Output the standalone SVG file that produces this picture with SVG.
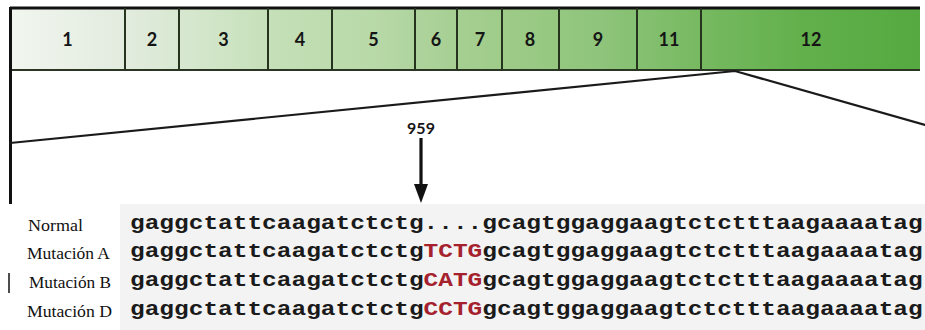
<svg xmlns="http://www.w3.org/2000/svg" width="925" height="330" viewBox="0 0 925 330">
  <defs>
    <linearGradient id="exonFill" gradientUnits="userSpaceOnUse" x1="10" y1="0" x2="920" y2="0">
      <stop offset="0" stop-color="#f1f6ef"/>
      <stop offset="0.13" stop-color="#e2ebde"/>
      <stop offset="0.2" stop-color="#d5e7cd"/>
      <stop offset="0.3" stop-color="#c3dfb6"/>
      <stop offset="0.4" stop-color="#b8d9a8"/>
      <stop offset="0.48" stop-color="#a8d095"/>
      <stop offset="0.55" stop-color="#9dcb87"/>
      <stop offset="0.65" stop-color="#8ec47b"/>
      <stop offset="0.75" stop-color="#79ba63"/>
      <stop offset="0.87" stop-color="#62b04c"/>
      <stop offset="1" stop-color="#55a940"/>
    </linearGradient>
  </defs>
  <style>
    .exon-num { font-family: Lato, "Liberation Sans", sans-serif; font-weight: bold; font-size: 18px; fill: #151515; text-anchor: middle; }
    .divider { stroke: #26331f; stroke-width: 2; }
    .label { font-family: "Liberation Serif", serif; font-size: 16px; fill: #111; }
    .seq { font-family: "Liberation Mono", monospace; font-weight: bold; font-size: 20px; fill: #1a1a1a; }
    .mut { fill: #a5212d; }
    .guide { stroke: #1a1a1a; stroke-width: 2.2; fill: none; stroke-linecap: round; }
  </style>

  <rect width="925" height="330" fill="#ffffff"/>

  <!-- exon bar -->
  <g id="exon-bar">
    <rect x="10" y="8" width="910" height="62" fill="url(#exonFill)"/>
    <line x1="10" y1="8" x2="920" y2="8" stroke="#111" stroke-width="3"/>
    <line x1="10" y1="70" x2="920" y2="70" stroke="#2a3524" stroke-width="2"/>
  </g>
  <g id="exon-1"><text class="exon-num" x="67.5" y="46">1</text></g>
  <g id="exon-2"><line class="divider" x1="125" y1="8" x2="125" y2="70"/><text class="exon-num" x="152" y="46">2</text></g>
  <g id="exon-3"><line class="divider" x1="179" y1="8" x2="179" y2="70"/><text class="exon-num" x="223.5" y="46">3</text></g>
  <g id="exon-4"><line class="divider" x1="268" y1="8" x2="268" y2="70"/><text class="exon-num" x="300" y="46">4</text></g>
  <g id="exon-5"><line class="divider" x1="332" y1="8" x2="332" y2="70"/><text class="exon-num" x="373.5" y="46">5</text></g>
  <g id="exon-6"><line class="divider" x1="415" y1="8" x2="415" y2="70"/><text class="exon-num" x="436" y="46">6</text></g>
  <g id="exon-7"><line class="divider" x1="457" y1="8" x2="457" y2="70"/><text class="exon-num" x="480" y="46">7</text></g>
  <g id="exon-8"><line class="divider" x1="502" y1="8" x2="502" y2="70"/><text class="exon-num" x="530" y="46">8</text></g>
  <g id="exon-9"><line class="divider" x1="559" y1="8" x2="559" y2="70"/><text class="exon-num" x="598" y="46">9</text></g>
  <g id="exon-11"><line class="divider" x1="637" y1="8" x2="637" y2="70"/><text class="exon-num" x="669" y="46">11</text></g>
  <g id="exon-12"><line class="divider" x1="701" y1="8" x2="701" y2="70"/><text class="exon-num" x="811" y="46">12</text></g>

  <!-- left frame edge -->
  <line x1="10.5" y1="7" x2="10.5" y2="204" stroke="#111" stroke-width="3"/>
  <line x1="9" y1="273" x2="9" y2="293" stroke="#111" stroke-width="1.5"/>

  <!-- zoom guides and position marker -->
  <g id="connectors">
    <polyline class="guide" points="10,143 735,71 925,125"/>
    <line x1="421" y1="138" x2="421" y2="187" stroke="#111" stroke-width="3.2"/>
    <polygon points="414,184 428,184 421,203" fill="#111"/>
  </g>
  <g id="position-959">
    <text x="421" y="134" class="exon-num" style="font-size:16px">959</text>
  </g>

  <!-- sequence panel -->
  <rect x="120" y="204" width="805" height="126" fill="#f3f3f3"/>

  <g id="row-normal">
    <text class="label" x="28" y="231" textLength="55" lengthAdjust="spacingAndGlyphs">Normal</text>
    <text class="seq" x="130" y="229" textLength="293.6" lengthAdjust="spacingAndGlyphs">gaggctattcaagatctctg</text>
    <text class="seq" x="423.6" y="229" textLength="58.7" lengthAdjust="spacingAndGlyphs">....</text>
    <text class="seq" x="482.3" y="229" textLength="440.4" lengthAdjust="spacingAndGlyphs">gcagtggaggaagtctctttaagaaaatag</text>
  </g>
  <g id="row-mut-a">
    <text class="label" x="27" y="259" textLength="83" lengthAdjust="spacingAndGlyphs">Mutación A</text>
    <text class="seq" x="130" y="257" textLength="293.6" lengthAdjust="spacingAndGlyphs">gaggctattcaagatctctg</text>
    <text class="seq mut" x="423.6" y="257" textLength="58.7" lengthAdjust="spacingAndGlyphs">TCTG</text>
    <text class="seq" x="482.3" y="257" textLength="440.4" lengthAdjust="spacingAndGlyphs">gcagtggaggaagtctctttaagaaaatag</text>
  </g>
  <g id="row-mut-b">
    <text class="label" x="29" y="288" textLength="82" lengthAdjust="spacingAndGlyphs">Mutación B</text>
    <text class="seq" x="130" y="286" textLength="293.6" lengthAdjust="spacingAndGlyphs">gaggctattcaagatctctg</text>
    <text class="seq mut" x="423.6" y="286" textLength="58.7" lengthAdjust="spacingAndGlyphs">CATG</text>
    <text class="seq" x="482.3" y="286" textLength="440.4" lengthAdjust="spacingAndGlyphs">gcagtggaggaagtctctttaagaaaatag</text>
  </g>
  <g id="row-mut-d">
    <text class="label" x="27" y="317" textLength="85" lengthAdjust="spacingAndGlyphs">Mutación D</text>
    <text class="seq" x="130" y="315" textLength="293.6" lengthAdjust="spacingAndGlyphs">gaggctattcaagatctctg</text>
    <text class="seq mut" x="423.6" y="315" textLength="58.7" lengthAdjust="spacingAndGlyphs">CCTG</text>
    <text class="seq" x="482.3" y="315" textLength="440.4" lengthAdjust="spacingAndGlyphs">gcagtggaggaagtctctttaagaaaatag</text>
  </g>
</svg>
